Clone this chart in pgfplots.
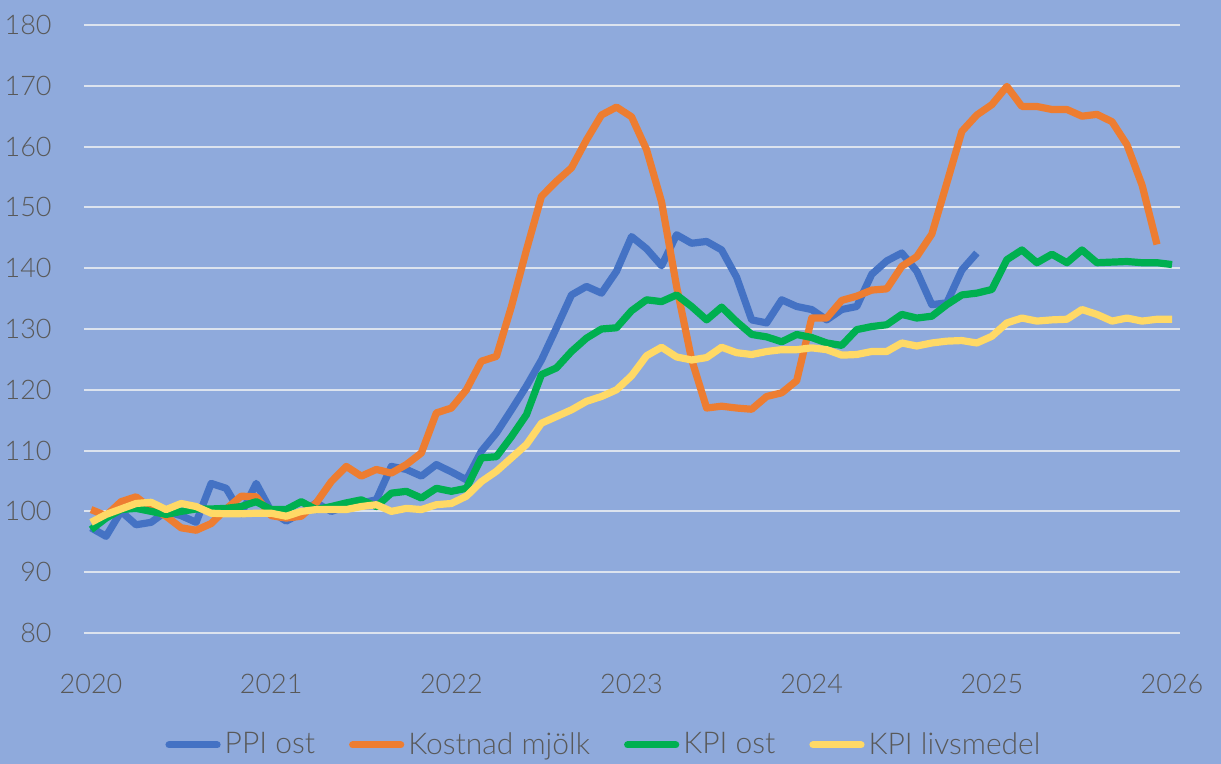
\documentclass[border=0pt]{standalone}
\usepackage{pgfplots}
\pgfplotsset{compat=1.18}
\usepackage{pgfplotstable}
\usepackage{fontspec}
\setmainfont{Lato}[UprightFont={* Light}]
\definecolor{bgc}{HTML}{8FAADC}
\definecolor{gridc}{HTML}{DCE3EE}
\definecolor{txt}{HTML}{595959}
\definecolor{cblue}{HTML}{4472C4}
\definecolor{corange}{HTML}{ED7D31}
\definecolor{cgreen}{HTML}{00B050}
\definecolor{cyellow}{HTML}{FFD966}
\pgfplotstableread{
m ppi milk kost livs
0 97.3 100.3 97.0 98.2
1 95.9 99.3 98.9 99.5
2 100.0 101.6 100.3 100.4
3 97.8 102.4 100.5 101.3
4 98.2 100.5 100.0 101.5
5 100.0 99.2 99.5 100.3
6 99.3 97.3 100.0 101.3
7 98.2 96.9 100.4 100.8
8 104.6 98.0 100.4 99.7
9 103.8 100.4 100.5 99.6
10 99.6 102.5 100.8 99.6
11 104.6 102.4 101.6 99.7
12 100.0 99.3 100.3 99.7
13 98.4 98.9 100.3 99.2
14 99.7 99.2 101.6 100.0
15 101.4 101.4 100.3 100.3
16 100.0 104.9 100.8 100.3
17 100.8 107.4 101.4 100.3
18 101.4 105.8 101.9 100.8
19 101.9 106.9 100.8 101.1
20 107.4 106.3 103.0 100.0
21 106.9 107.7 103.3 100.5
22 105.8 109.6 102.2 100.3
23 107.7 116.2 103.8 101.1
24 106.5 117.0 103.3 101.3
25 105.2 120.0 103.8 102.5
26 109.9 124.7 108.8 104.9
27 112.9 125.5 109.0 106.6
28 116.7 133.7 112.3 108.8
29 120.6 143.0 115.9 111.0
30 124.9 151.8 122.5 114.5
31 130.2 154.3 123.6 115.6
32 135.6 156.5 126.3 116.7
33 137.0 161.1 128.5 118.1
34 135.9 165.2 130.0 118.9
35 139.5 166.5 130.2 120.0
36 145.2 164.9 133.0 122.3
37 143.2 159.5 134.8 125.6
38 140.4 150.9 134.5 127.0
39 145.5 137.0 135.6 125.4
40 144.1 125.0 133.7 124.9
41 144.4 117.0 131.5 125.3
42 143.0 117.3 133.6 127.0
43 138.5 117.0 131.2 126.1
44 131.5 116.8 129.1 125.8
45 131.0 118.9 128.7 126.3
46 134.8 119.5 127.9 126.6
47 133.7 121.5 129.1 126.6
48 133.2 131.8 128.6 126.9
49 131.5 131.8 127.7 126.6
50 133.2 134.7 127.3 125.7
51 133.7 135.4 129.9 125.8
52 139.0 136.4 130.4 126.3
53 141.2 136.6 130.7 126.3
54 142.5 140.3 132.4 127.7
55 139.5 141.9 131.8 127.2
56 134.0 145.6 132.1 127.7
57 134.3 154.0 134.0 128.0
58 139.7 162.5 135.6 128.1
59 142.5 165.2 135.9 127.7
60 nan 166.9 136.5 128.8
61 nan 169.9 141.4 131.0
62 nan 166.6 143.0 131.8
63 nan 166.6 140.9 131.3
64 nan 166.1 142.3 131.5
65 nan 166.1 140.9 131.6
66 nan 165.0 143.0 133.2
67 nan 165.3 140.9 132.4
68 nan 164.1 141.0 131.3
69 nan 160.3 141.1 131.8
70 nan 153.7 140.9 131.3
71 nan 143.9 140.9 131.6
72 nan nan 140.6 131.6
}\datatable
\begin{document}
\begin{tikzpicture}
\fill[bgc] (-42pt,-65.5pt) rectangle (568.5pt,316.5pt);
\begin{axis}[
  at={(0,0)}, anchor=south west,
  width=548pt, height=304pt, scale only axis,
  xmin=-0.47, xmax=72.53, ymin=80, ymax=180,
  axis line style={draw=none},
  major tick length=0pt,
  xtick={0,12,24,36,48,60,72},
  xticklabels={2020,2021,2022,2023,2024,2025,2026},
  ytick={80,90,...,180},
  yticklabels={80,90,100,110,120,130,140,150,160,170,180},
  ymajorgrids, grid style={gridc, line width=1pt},
  tick label style={font=\fontsize{13.5pt}{16pt}\selectfont, text=txt, inner sep=0pt},
  yticklabel style={anchor=east, xshift=-16pt},
  xticklabel style={anchor=base, yshift=-30.5pt},
  unbounded coords=jump,
  legend columns=4,
  legend style={at={(0.4735,-0.184)}, anchor=center, draw=none, fill=none,
    font=\fontsize{15pt}{18pt}\selectfont, text=txt,
    nodes={inner sep=0pt},
    /tikz/every odd column/.append style={column sep=2pt},
    /tikz/every even column/.append style={column sep=17pt}},
  legend image code/.code={\draw[#1, line cap=round] (1.8pt,0pt) -- (25.8pt,0pt);},
  every axis plot/.append style={line width=3.6pt, line join=round, no markers},
]
\addplot[cblue] table[x=m, y=ppi] {\datatable};
\addlegendentry{PPI ost}
\addplot[corange] table[x=m, y=milk] {\datatable};
\addlegendentry{Kostnad mjölk}
\addplot[cgreen] table[x=m, y=kost] {\datatable};
\addlegendentry{KPI ost}
\addplot[cyellow] table[x=m, y=livs] {\datatable};
\addlegendentry{KPI livsmedel}
\end{axis}
\pgfresetboundingbox
\useasboundingbox (-42pt,-65.5pt) rectangle (568.5pt,316.5pt);
\end{tikzpicture}
\end{document}
